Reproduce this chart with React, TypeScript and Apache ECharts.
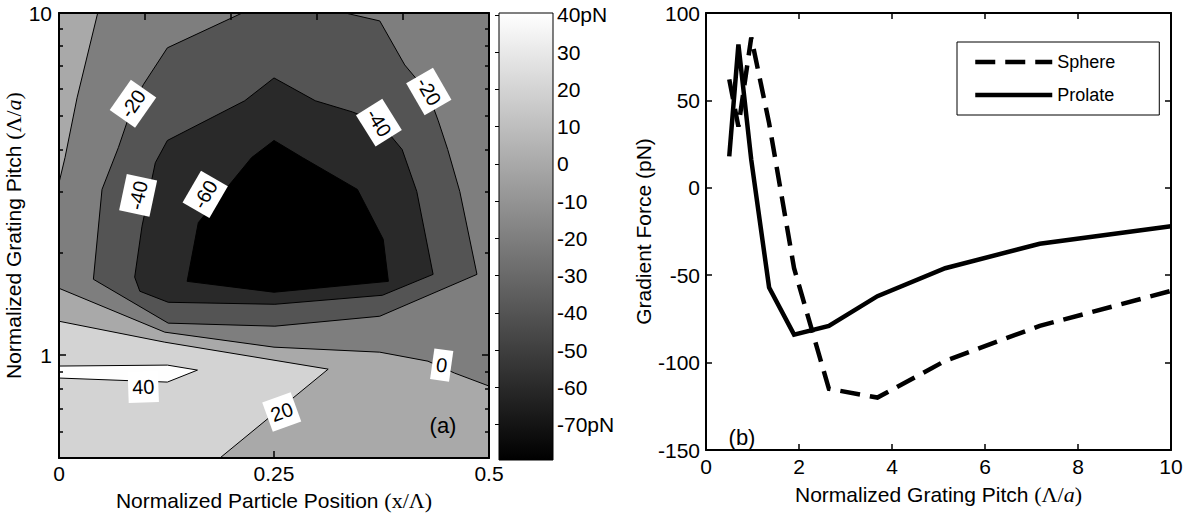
import React, { useEffect, useRef } from 'react';
import * as echarts from 'echarts';

const SANS = '"Liberation Sans", Arial, Helvetica, sans-serif';
const SERIF = '"Liberation Serif", "Times New Roman", serif';

// ---------- Panel (a): contour map, x = particle position (x/Λ), y = grating pitch (Λ/a)
const positionMin = 0;
const positionMax = 0.5;
const pitchMin = 0.5;
const pitchMax = 10;
const pitchMajorTicks = [1, 10];
const pitchMinorTicks = [0.6, 0.7, 0.8, 0.9, 2, 3, 4, 5, 6, 7, 8, 9];
const colorMin = -79.5;
const colorMax = 40.5;
const colorbarTicks = [40, 30, 20, 10, 0, -10, -20, -30, -40, -50, -60, -70];

// contour regions [position, pitch]
const plotArea = [[0, 0.5], [0.5, 0.5], [0.5, 10], [0, 10]];
const regionBelowMinus20 = [
  [0.213, 10], [0.126, 7.91], [0.098, 6.17], [0.086, 5.39], [0.069, 4.04], [0.05, 3.05],
  [0.04, 1.666], [0.127, 1.24], [0.251, 1.215], [0.373, 1.299], [0.486, 1.722], [0.466, 3.01],
  [0.452, 3.99], [0.441, 4.84], [0.429, 5.85], [0.402, 7.05], [0.373, 9.48], [0.333, 10],
];
const regionBelowMinus40 = [
  [0.25, 6.46], [0.298, 5.54], [0.341, 5.14], [0.373, 4.78], [0.399, 3.99], [0.416, 3.01],
  [0.435, 1.722], [0.376, 1.496], [0.251, 1.408], [0.127, 1.427], [0.094, 1.537], [0.088, 1.69],
  [0.0965, 2.38], [0.112, 3.65], [0.126, 4.24], [0.216, 5.54],
];
const regionBelowMinus60 = [
  [0.25, 4.24], [0.283, 3.78], [0.347, 3.05], [0.377, 2.18], [0.383, 1.643], [0.25, 1.527],
  [0.149, 1.643], [0.162, 2.44], [0.224, 3.78],
];
const regionAbove0Top = [[0, 10], [0.045, 10], [0.021, 5.65], [0.007, 3.78], [0, 3.19]];
const regionAbove0Bottom = [
  [0, 1.568], [0.123, 1.167], [0.25, 1.055], [0.373, 1.02], [0.429, 0.96], [0.46, 0.886],
  [0.5, 0.812], [0.5, 0.5], [0, 0.5],
];
const regionAbove20 = [[0, 1.256], [0.123, 1.091], [0.313, 0.91], [0.187, 0.5], [0, 0.5]];
const regionAbove40 = [[0, 0.929], [0.126, 0.935], [0.161, 0.904], [0.126, 0.834], [0, 0.857]];

// band level (lower bound of each filled band)
const regionPolygons = [plotArea, regionBelowMinus20, regionBelowMinus40, regionBelowMinus60, regionAbove0Top, regionAbove0Bottom, regionAbove20, regionAbove40];
const regionLevels = [-20, -40, -60, -79.5, 0, 0, 20, 40];
const regionOutlined = [false, true, true, true, true, true, true, true];

// contour labels
const contourLabelText = ['-20', '-40', '-60', '-40', '-20', '40', '20', '0'];
const contourLabelPosition = [0.086, 0.092, 0.17, 0.372, 0.43, 0.098, 0.259, 0.445];
const contourLabelPitch = [5.43, 2.93, 2.95, 4.78, 5.9, 0.807, 0.682, 0.935];
const contourLabelAngle = [55, 78, 60, -58, -60, 2, 20, -8];

// ---------- Panel (b): gradient force vs grating pitch
const gratingPitch = [0.5, 0.697, 0.973, 1.357, 1.894, 2.643, 3.687, 5.144, 7.177, 10];
const sphereForce = [62, 35, 86, 37, -46, -115, -120, -99, -79, -59];
const prolateForce = [18, 82, 16, -57, -84, -79, -62, -46, -32, -22];

function gray(level: number) {
  const t = Math.max(0, Math.min(1, (level - colorMin) / (colorMax - colorMin)));
  const g = Math.round(t * 255);
  return `rgb(${g},${g},${g})`;
}

const axisLineStyle = { show: true, onZero: false, lineStyle: { color: '#000', width: 2 } };
const tickFont = { color: '#000', fontSize: 21, fontFamily: SANS };
const nameFont = {
  color: '#000',
  fontSize: 21,
  fontFamily: SANS,
  rich: {
    s: { fontFamily: SERIF, fontSize: 22, color: '#000' },
    i: { fontFamily: SERIF, fontSize: 22, fontStyle: 'italic', color: '#000' },
  },
};

const option: any = {
  animation: false,
  backgroundColor: '#fff',
  textStyle: { fontFamily: SANS },
  grid: [
    { left: 59, top: 13, width: 430, height: 446 },
    { left: 59, top: 13, width: 430, height: 446 },
    { left: 499, top: 13, width: 54, height: 447 },
    { left: 706, top: 13, width: 465, height: 437 },
  ],
  xAxis: [
    {
      gridIndex: 0, type: 'value', position: 'bottom', min: positionMin, max: positionMax, interval: 0.25, z: 10,
      axisLine: axisLineStyle,
      axisTick: { show: true, inside: true, length: 7, lineStyle: { color: '#000', width: 1.5 } },
      axisLabel: { ...tickFont, margin: 5, formatter: (v: number) => String(v) },
      splitLine: { show: false },
      name: 'Normalized Particle Position {s|(x/Λ)}', nameLocation: 'middle', nameGap: 26, nameTextStyle: nameFont,
    },
    {
      gridIndex: 0, type: 'value', position: 'top', min: positionMin, max: positionMax, interval: 0.1, z: 10,
      axisLine: axisLineStyle,
      axisTick: { show: true, inside: true, length: 7, lineStyle: { color: '#000', width: 1.5 } },
      axisLabel: { show: false }, splitLine: { show: false },
    },
    { gridIndex: 1, type: 'value', min: positionMin, max: positionMax, show: false },
    { gridIndex: 2, type: 'value', min: 0, max: 1, show: false },
    {
      gridIndex: 3, type: 'value', position: 'bottom', min: 0, max: 10, interval: 2, z: 10,
      axisLine: axisLineStyle,
      axisTick: { show: true, inside: true, length: 6, lineStyle: { color: '#000', width: 1.5 } },
      axisLabel: { ...tickFont, margin: 6 },
      splitLine: { show: false },
      name: 'Normalized Grating Pitch {s|(Λ/}{i|a}{s|)}', nameLocation: 'middle', nameGap: 33, nameTextStyle: nameFont,
    },
    {
      gridIndex: 3, type: 'value', position: 'top', min: 0, max: 10, interval: 2, z: 10,
      axisLine: axisLineStyle,
      axisTick: { show: true, inside: true, length: 6, lineStyle: { color: '#000', width: 1.5 } },
      axisLabel: { show: false }, splitLine: { show: false },
    },
  ],
  yAxis: [
    {
      gridIndex: 0, type: 'log', logBase: 10, position: 'left', min: pitchMin, max: pitchMax, z: 10,
      axisLine: axisLineStyle,
      axisTick: { show: true, inside: true, length: 7, customValues: pitchMajorTicks, lineStyle: { color: '#000', width: 1.5 } },
      axisLabel: { ...tickFont, margin: 7, customValues: pitchMajorTicks, formatter: (v: number) => String(v) },
      splitLine: { show: false }, minorTick: { show: false },
      name: 'Normalized Grating Pitch {s|(Λ/}{i|a}{s|)}', nameLocation: 'middle', nameGap: 30, nameRotate: 90, nameTextStyle: nameFont,
    },
    {
      gridIndex: 0, type: 'log', logBase: 10, position: 'right', min: pitchMin, max: pitchMax, z: 10,
      axisLine: axisLineStyle,
      axisTick: { show: true, inside: true, length: 7, customValues: pitchMajorTicks, lineStyle: { color: '#000', width: 1.5 } },
      axisLabel: { show: false }, splitLine: { show: false },
    },
    {
      gridIndex: 1, type: 'log', logBase: 10, position: 'left', min: pitchMin, max: pitchMax, z: 10,
      axisLine: { show: false },
      axisTick: { show: true, inside: true, length: 4, customValues: pitchMinorTicks, lineStyle: { color: '#000', width: 1.5 } },
      axisLabel: { show: false }, splitLine: { show: false },
    },
    {
      gridIndex: 1, type: 'log', logBase: 10, position: 'right', min: pitchMin, max: pitchMax, z: 10,
      axisLine: { show: false },
      axisTick: { show: true, inside: true, length: 4, customValues: pitchMinorTicks, lineStyle: { color: '#000', width: 1.5 } },
      axisLabel: { show: false }, splitLine: { show: false },
    },
    {
      gridIndex: 2, type: 'value', position: 'right', min: colorMin, max: colorMax, z: 10,
      axisLine: { show: false },
      axisTick: { show: true, inside: true, length: 4, customValues: colorbarTicks, lineStyle: { color: '#000', width: 1 } },
      axisLabel: {
        ...tickFont, margin: 4, customValues: colorbarTicks,
        formatter: (v: number) => (v === 40 || v === -70 ? `${v}pN` : `${v}`),
      },
      splitLine: { show: false },
    },
    {
      gridIndex: 3, type: 'value', position: 'left', min: -150, max: 100, interval: 50, z: 10,
      axisLine: axisLineStyle,
      axisTick: { show: true, inside: true, length: 6, lineStyle: { color: '#000', width: 1.5 } },
      axisLabel: { ...tickFont, margin: 6 },
      splitLine: { show: false },
      name: 'Gradient Force (pN)', nameLocation: 'middle', nameGap: 48, nameRotate: 90, nameTextStyle: nameFont,
    },
    {
      gridIndex: 3, type: 'value', position: 'right', min: -150, max: 100, interval: 50, z: 10,
      axisLine: axisLineStyle,
      axisTick: { show: true, inside: true, length: 6, lineStyle: { color: '#000', width: 1.5 } },
      axisLabel: { show: false }, splitLine: { show: false },
    },
  ],
  legend: {
    left: 957, top: 42, orient: 'vertical',
    padding: [11, 44, 11, 16], itemGap: 15, itemWidth: 77, itemHeight: 14, itemTextGap: 8,
    borderColor: '#000', borderWidth: 1, backgroundColor: '#fff',
    textStyle: { color: '#000', fontSize: 18, fontFamily: SANS },
    itemStyle: { opacity: 0, color: 'rgba(0,0,0,0)', borderWidth: 0 },
    lineStyle: { width: 4.5, color: '#000' },
    data: ['Sphere', 'Prolate'],
  },
  series: [
    {
      type: 'custom', name: 'field', xAxisIndex: 0, yAxisIndex: 0, z: 1, silent: true,
      data: regionPolygons.map(() => [0.25, 1]),
      renderItem: (params: any, api: any) => {
        const i = params.dataIndex;
        const pts = regionPolygons[i].map((p) => api.coord(p));
        return {
          type: 'polygon',
          shape: { points: pts },
          style: { fill: gray(regionLevels[i]), stroke: regionOutlined[i] ? '#000' : 'none', lineWidth: 1 },
        };
      },
    },
    {
      type: 'custom', name: 'labels', xAxisIndex: 0, yAxisIndex: 0, z: 2, silent: true,
      data: contourLabelText.map((_, i) => [contourLabelPosition[i], contourLabelPitch[i]]),
      renderItem: (params: any, api: any) => {
        const i = params.dataIndex;
        const c = api.coord([contourLabelPosition[i], contourLabelPitch[i]]);
        return {
          type: 'text',
          x: c[0], y: c[1],
          rotation: (contourLabelAngle[i] * Math.PI) / 180,
          style: {
            text: contourLabelText[i], fill: '#000', font: `20px ${SANS}`,
            align: 'center', verticalAlign: 'middle',
            backgroundColor: '#fff', padding: [6, 4, 5, 4],
          },
        };
      },
    },
    {
      type: 'custom', name: 'colorbar', xAxisIndex: 3, yAxisIndex: 4, z: 1, silent: true,
      data: [[0, colorMin, colorMax]],
      renderItem: (params: any, api: any) => {
        const a = api.coord([0, colorMax]);
        const b = api.coord([1, colorMin]);
        return {
          type: 'rect',
          shape: { x: a[0], y: a[1], width: b[0] - a[0], height: b[1] - a[1] },
          style: {
            fill: new echarts.graphic.LinearGradient(0, 0, 0, 1, [
              { offset: 0, color: gray(colorMax) },
              { offset: 1, color: gray(colorMin) },
            ]),
            stroke: '#000', lineWidth: 1,
          },
        };
      },
    },
    {
      type: 'line', name: 'Sphere', xAxisIndex: 4, yAxisIndex: 5, z: 3, symbol: 'none',
      data: gratingPitch.map((x, i) => [x, sphereForce[i]]),
      lineStyle: { color: '#000', width: 4.5, type: [20, 10], cap: 'butt', join: 'miter' },
      itemStyle: { color: '#000' },
    },
    {
      type: 'line', name: 'Prolate', xAxisIndex: 4, yAxisIndex: 5, z: 3, symbol: 'none',
      data: gratingPitch.map((x, i) => [x, prolateForce[i]]),
      lineStyle: { color: '#000', width: 4.5, type: 'solid', join: 'miter' },
      itemStyle: { color: '#000' },
    },
  ],
  graphic: [
    { type: 'text', x: 443, y: 425, z: 20, style: { text: '(a)', font: `22px ${SANS}`, fill: '#000', align: 'center', verticalAlign: 'middle' } },
    { type: 'text', x: 742, y: 437, z: 20, style: { text: '(b)', font: `22px ${SANS}`, fill: '#000', align: 'center', verticalAlign: 'middle' } },
  ],
};

export default function App() {
  const ref = useRef<HTMLDivElement>(null);
  useEffect(() => {
    document.body.style.margin = '0';
    const chart = echarts.init(ref.current as HTMLDivElement, undefined, { renderer: 'svg' });
    chart.setOption(option);
    return () => chart.dispose();
  }, []);
  return <div ref={ref} style={{ width: 1195, height: 516 }} />;
}
